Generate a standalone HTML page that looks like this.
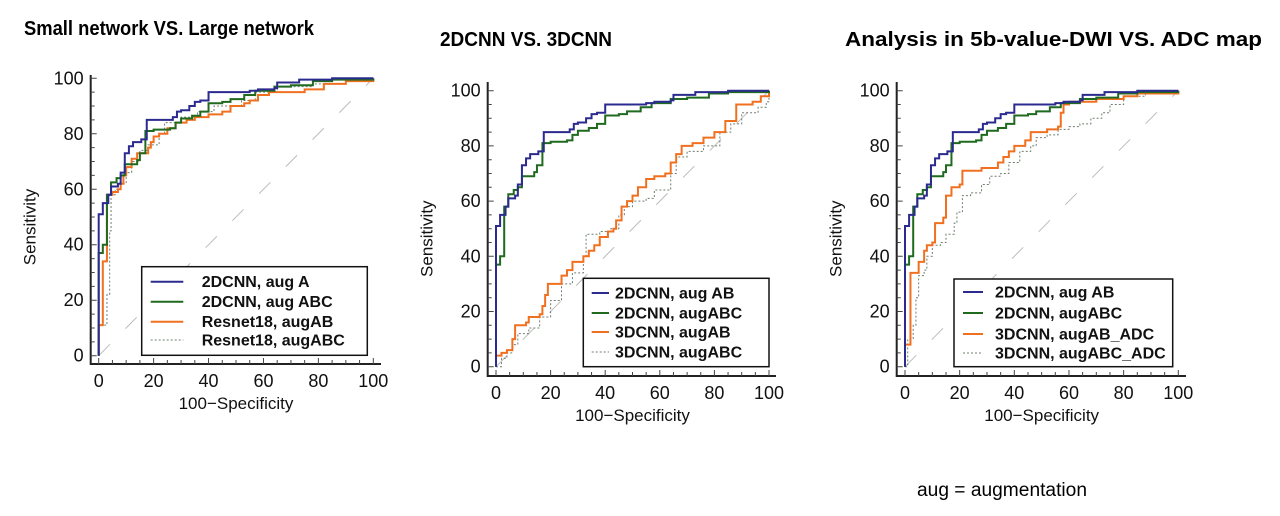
<!DOCTYPE html>
<html><head><meta charset="utf-8"><style>
html,body{margin:0;padding:0;background:#fff;}
svg{display:block;font-family:"Liberation Sans",sans-serif;}
</style></head><body>
<svg id="fig" width="1280" height="516" viewBox="0 0 1280 516">
<text x="24" y="35" font-size="20" font-weight="bold" textLength="290" lengthAdjust="spacingAndGlyphs">Small network VS. Large network</text>
<text x="440" y="46" font-size="20" font-weight="bold" textLength="172" lengthAdjust="spacingAndGlyphs">2DCNN VS. 3DCNN</text>
<text x="845" y="46" font-size="20" font-weight="bold" textLength="417" lengthAdjust="spacingAndGlyphs">Analysis in 5b-value-DWI VS. ADC map</text>
<text x="917" y="496" font-size="19" textLength="170" lengthAdjust="spacingAndGlyphs">aug = augmentation</text>
</svg>
<script>
// ---- data ----
const xTicks = [0,20,40,60,80,100];
const yTicks = [0,20,40,60,80,100];
const cnn2dAugAB_x = [0,0,1.5,3.5,4.5,7,8,9.5,11,12.5,15.5,17.5,27,28.5,30,33,35,37,40,55,58,64,65,73,85,100];
const cnn2dAugAB_y = [0,51,55,58,61,62,66,73,75.5,77,78,85,86,88,88.5,90,91.5,92,95,95.5,96,96.5,98.5,99.5,100,100];
const cnn2dAugABC_x = [0,0,1.5,3,4.5,6.5,8,9.5,14,15,17,20,26,28,30,34,37,40,45,48,53,57,64,70,78,85,100];
const cnn2dAugABC_y = [0,37,40,58,62.5,64,65,69,70.5,73,81,81.5,82,84,85.5,86.5,88,91,91.5,92.5,94,95.5,97,97.5,99,99.5,100];
const resAB_x = [0,0,1.5,3,5,7,8,9,10,12,14,18,19,20,22,25,28,32,35,40,45,48,53,55,58,62,75,82,90,100];
const resAB_y = [0,11,34,58,59,60,62,65,68,71,73,75,77,79,80,82,84,85,86,87,88,90,91,92,94,95,96,98,99,100];
const resABC_x = [0,0,3,4,4.5,6,8,10,12,15,18,22,24,30,36,42,52,57,65,78,90,100];
const resABC_y = [0,11,22,45,58,60,62,66,70,74,76,80,84,86,88,90,92,95,97,98,99,100];
const cnn3dAB_x = [0,0,2,4,6,7,11,12,16,17,18,19,24,26,28,32,34,36,38,41,43,44,46,48,50,52,55,58,62,64,66,68,72,76,80,84,88,94,97,100];
const cnn3dAB_y = [0,4,5,6,10,15,16,18,19,22,26,30,33,35,38,40,42,44,47,49,50,53,58,60,62,65,68,69,70,74,77,80,81,83,85,89,95,96,98,100];
const cnn3dABC_x = [0,2,4,6,8,12,16,20,24,28,32,33,38,42,45,47,50,55,58,64,66,70,76,82,86,90,96,99,100];
const cnn3dABC_y = [0,3,5,8,12,14,18,24,30,34,40,48,49,50,55,58,60,61,64,70,76,78,80,85,88,92,94,96,100];
const adcAB_x = [0,0,2,5,7,8,10,11,14,15,17,20,21,28,34,36,38,40,44,46,52,56,57,58,60,70,80,85,100];
const adcAB_y = [0,8,34,38,42,44,45,52,54,62,65,66,71,72,74,76,78,80,82,85,86,87,92,95,96,97,98,99,100];
const adcABC_x = [0,1,3,4,5,7,8,10,13,15,18,19,21,24,28,31,35,38,42,46,48,52,56,60,64,68,72,75,80,88,100];
const adcABC_y = [0,10,15,25,33,35,40,44,45,48,52,56,62,63,66,69,70,74,78,80,83,84,86,87,88,90,92,95,98,99,100];

// ---- layout ----
const BLUE='#2b2b8f', GREEN='#1f6a1f', ORANGE='#f07020', GRAY='#6f7f6f';
const charts = [
 {id:'small-vs-large', axX:90.7, x0:98.7, x1:373.3, y0:355.7, y1:78.3, axB:364, axT:75, axR:381,
  leg:[141.7,266.7,225.6,88.6], legLine:[150.7,183.3], legText:201.7, legY:[281.7,301.7,321.7,340],
  series:[['2DCNN, aug A',cnn2dAugAB_x,cnn2dAugAB_y,BLUE,0],['2DCNN, aug ABC',cnn2dAugABC_x,cnn2dAugABC_y,GREEN,0],
          ['Resnet18, augAB',resAB_x,resAB_y,ORANGE,0],['Resnet18, augABC',resABC_x,resABC_y,GRAY,1]]},
 {id:'2d-vs-3d', axX:487.7, x0:496, x1:769, y0:366.7, y1:90.7, axB:376, axT:82, axR:776,
  leg:[583.3,278.3,185.7,88.4], legLine:[591.7,609], legText:615, legY:[293,313,332,352],
  series:[['2DCNN, aug AB',cnn2dAugAB_x,cnn2dAugAB_y,BLUE,0],['2DCNN, augABC',cnn2dAugABC_x,cnn2dAugABC_y,GREEN,0],
          ['3DCNN, augAB',cnn3dAB_x,cnn3dAB_y,ORANGE,0],['3DCNN, augABC',cnn3dABC_x,cnn3dABC_y,GRAY,1]]},
 {id:'dwi-vs-adc', axX:896.7, x0:905, x1:1178.3, y0:366.7, y1:90.7, axB:376, axT:82, axR:1186,
  leg:[954,279,218.7,87.7], legLine:[963,983], legText:995, legY:[292,313,334,353],
  series:[['2DCNN, aug AB',cnn2dAugAB_x,cnn2dAugAB_y,BLUE,0],['2DCNN, augABC',cnn2dAugABC_x,cnn2dAugABC_y,GREEN,0],
          ['3DCNN, augAB_ADC',adcAB_x,adcAB_y,ORANGE,0],['3DCNN, augABC_ADC',adcABC_x,adcABC_y,GRAY,1]]}
];
const NS='http://www.w3.org/2000/svg';
const svg=document.getElementById('fig');
function mk(tag,attrs,parent){const e=document.createElementNS(NS,tag);for(const k in attrs)e.setAttribute(k,attrs[k]);(parent||svg).appendChild(e);return e;}
charts.forEach(c=>{
  const sx=v=>c.x0+(c.x1-c.x0)*v/100, sy=v=>c.y0+(c.y1-c.y0)*v/100;
  const g=mk('g',{});
  
  
  const d=mk('line',{x1:sx(0),y1:sy(0),x2:sx(100),y2:sy(100),stroke:'#bbb','stroke-width':1,'stroke-dasharray':'16 22'},g);
  
  
  const ax=mk('path',{d:`M${c.axX},${c.axT}V${c.axB}H${c.axR}`,stroke:'#222','stroke-width':2,fill:'none'},g);
  
  
  let tk='';
  for(let v=0;v<=100;v+=5){const L=v%20===0?6:4;tk+=`M${sx(v)},${c.axB}v${-L}M${c.axX},${sy(v)}h${L}`;}
  mk('path',{d:tk,stroke:'#444','stroke-width':1,fill:'none'},g);
  xTicks.forEach(v=>{const t=mk('text',{x:sx(v),y:c.axB+23,'font-size':18,'text-anchor':'middle',fill:'#111'},g);t.textContent=v;
    
    });
  yTicks.forEach(v=>{const t=mk('text',{x:c.axX-7,y:sy(v)+6,'font-size':18,'text-anchor':'end',fill:'#111'},g);t.textContent=v;
    
    });
  const xt=mk('text',{x:(c.x0+c.x1)/2,y:c.axB+45,'font-size':17,'text-anchor':'middle',fill:'#111'},g);xt.textContent='100−Specificity';
  
  
  const yx=c.axX-55, yy=(c.y0+c.y1)/2+10;
  const yt=mk('text',{x:yx,y:yy,'font-size':17,'text-anchor':'middle',fill:'#111',transform:`rotate(-90 ${yx} ${yy})`},g);yt.textContent='Sensitivity';
  
  
  c.series.slice().reverse().forEach(s=>{
    const xs=s[1], ys=s[2];
    let p=`M${sx(xs[0])},${sy(ys[0])}`;
    for(let i=1;i<xs.length;i++){p+=`H${sx(xs[i])}V${sy(ys[i])}`;}
    const e=mk('path',{d:p,fill:'none',stroke:s[3],'stroke-width':s[4]?1:2,'stroke-dasharray':s[4]?'2 2':'none'},g);
    
    
  });
  const lg=mk('g',{},g);
  
  
  mk('rect',{x:c.leg[0],y:c.leg[1],width:c.leg[2],height:c.leg[3],fill:'#fff',stroke:'#111','stroke-width':1.5},lg);
  c.series.forEach((s,i)=>{
    const y=c.legY[i];
    const ln=mk('line',{x1:c.legLine[0],x2:c.legLine[1],y1:y,y2:y,stroke:s[3],'stroke-width':s[4]?1:2,'stroke-dasharray':s[4]?'2 2':'none'},lg);
    
    
    const t=mk('text',{x:c.legText,y:y+5.5,'font-size':16,'font-weight':'bold',fill:'#111'},lg);t.textContent=s[0];
    
    
  });
});
</script>
</body></html>
